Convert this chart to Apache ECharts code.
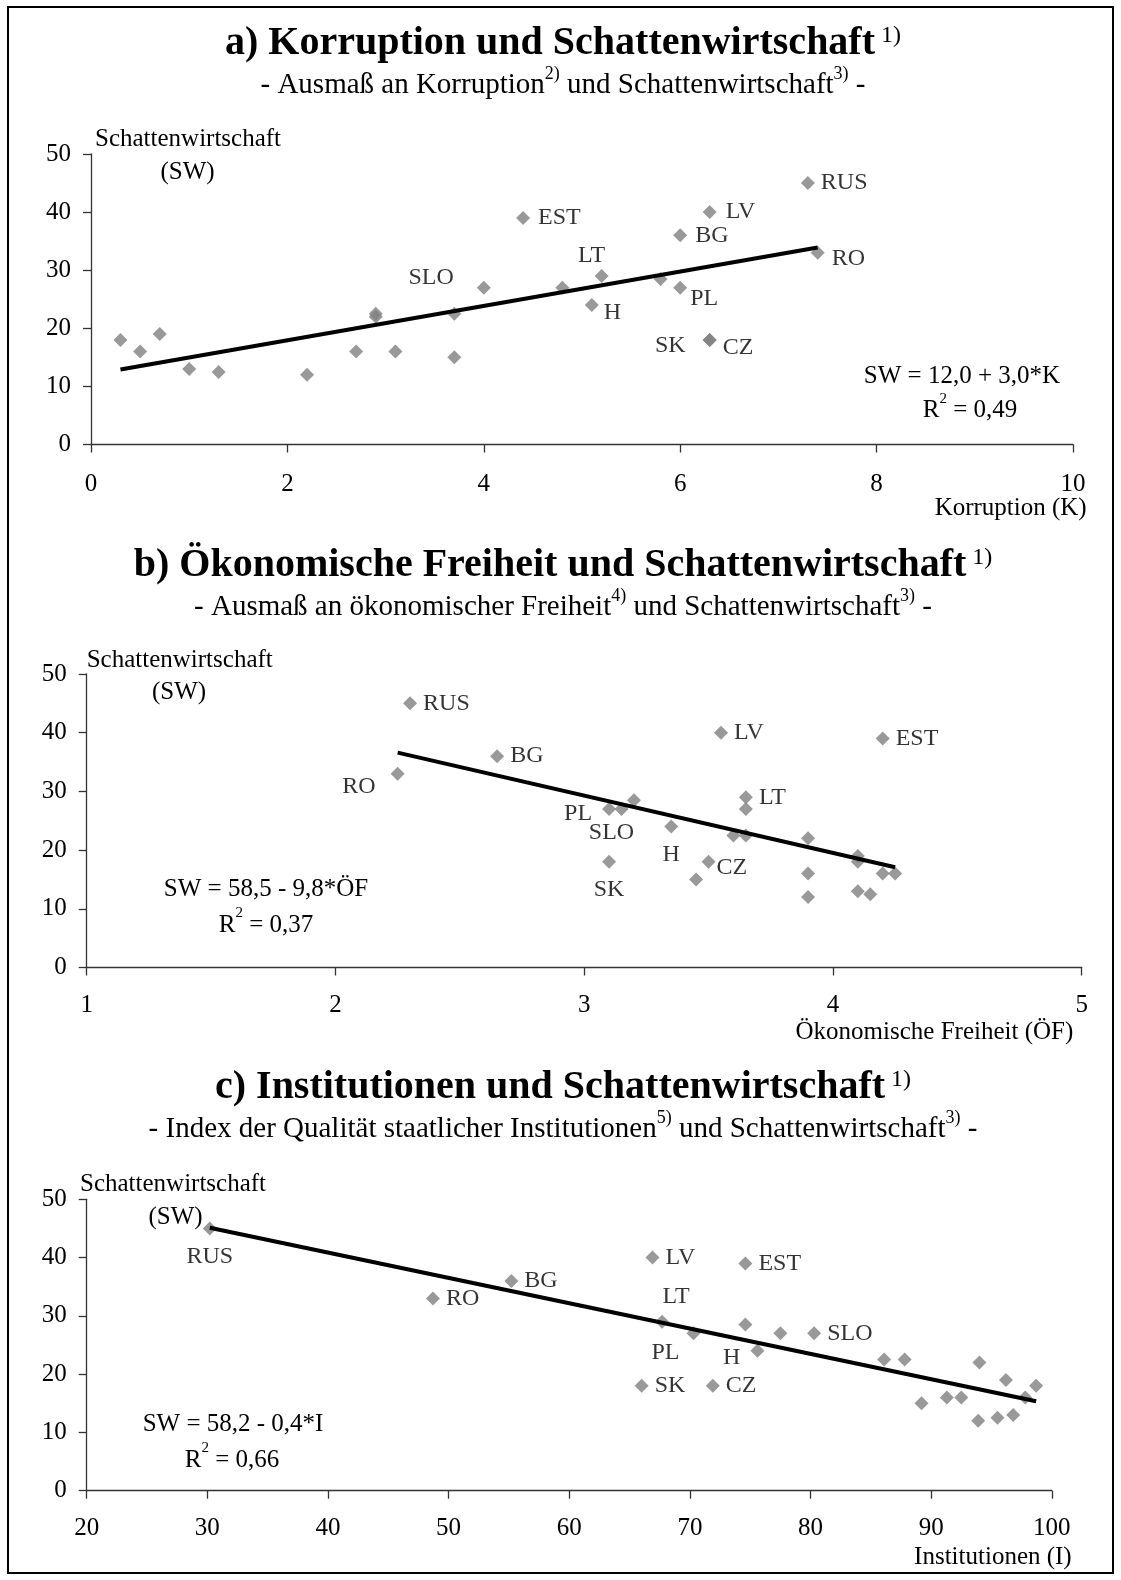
<!DOCTYPE html>
<html>
<head>
<meta charset="utf-8">
<script src="https://cdn.jsdelivr.net/npm/echarts@6/dist/echarts.min.js"></script>
<style>
html,body{margin:0;padding:0;background:#fff;}
#c{width:1121px;height:1580px;}
</style>
</head>
<body>
<div id="c"></div>
<script>
// ---------------- DATA ----------------
const countries = ['RUS','RO','BG','LV','EST','LT','PL','SLO','H','SK','CZ','','','','','','','','','','','','','',''];
const shadowEconomy = [45,33,36,40,39,29,27,27,24,18,18,28.5,27,18,16,16,16,19,13,12.5,12,22.5,22.5,22,15];
const corruption   = [7.3,7.4,6.0,6.3,4.4,5.2,6.0,4.0,5.1,6.3,6.3,5.8,4.8,0.3,0.5,2.7,3.1,0.7,1.0,1.3,2.2,2.9,3.7,2.9,3.7];
const econFreedom  = [2.30,2.25,2.65,3.55,4.20,3.65,3.10,3.15,3.35,3.10,3.50,3.20,3.65,4.10,3.90,4.20,4.25,4.10,4.10,4.15,3.90,3.60,3.65,3.90,3.45];
const institutions = [30.2,48.7,55.2,66.9,74.6,67.7,70.3,80.3,75.6,66.0,71.9,74.6,77.5,98.7,91.3,92.5,97.8,96.2,96.8,95.5,93.9,86.1,87.8,94.0,89.2];
const yTicks = [0,10,20,30,40,50];

// ---------------- LABEL LAYOUT (styles, not data) ----------------
const labelPosA = {RUS:['right',[0,0]], RO:['right',[1,6]], LV:['right',[3,0]], BG:['right',[2,0]], EST:['right',[2,0]],
  LT:['top',[-10,5]], PL:['right',[-3,11]], H:['right',[-1,8]], SK:['left',[-11,6]], CZ:['right',[0,8]], SLO:['left',[-17,-10]]};
const labelPosB = {RUS:['right',[0,0]], BG:['right',[0,0]], RO:['left',[-9,13]], LV:['right',[0,0]], EST:['right',[0,0]],
  LT:['right',[0,0]], PL:['left',[-4,5]], SLO:['bottom',[-10,-1]], H:['bottom',[0,3]], SK:['bottom',[0,3]], CZ:['right',[-5,6]]};
const labelPosC = {RUS:['bottom',[0,3]], RO:['right',[0,0]], BG:['right',[0,0]], LV:['right',[0,0]], EST:['right',[0,0]],
  LT:['top',[14,0]], PL:['bottom',[-28,-6]], H:['left',[-4,7]], SK:['right',[0,0]], CZ:['right',[0,0]], SLO:['right',[0,0]]};

const FONT = '"Liberation Serif", "Times New Roman", serif';
const mctx = document.createElement('canvas').getContext('2d');
function textW(t, size, bold){ mctx.font = (bold?'bold ':'') + size + 'px ' + FONT; return mctx.measureText(t).width; }
// parts: [text, size, bold, dy]
function textLine(parts, x, cy, align){
  const total = parts.reduce((s,p)=>s+textW(p[0],p[1],p[2]),0);
  let cx = align==='left' ? x : (align==='right' ? x-total : x-total/2);
  const els = [];
  parts.forEach(p=>{
    els.push({type:'text', x:cx, y:cy+(p[3]||0), silent:true,
      style:{text:p[0], fontSize:p[1], fontWeight:p[2]?'bold':'normal', fontFamily:FONT, fill:'#000',
        textAlign:'left', textVerticalAlign:'middle', align:'left', verticalAlign:'middle'}});
    cx += textW(p[0],p[1],p[2]);
  });
  return els;
}
function fit(xs, ys){
  const n = xs.length;
  const mx = xs.reduce((a,b)=>a+b,0)/n, my = ys.reduce((a,b)=>a+b,0)/n;
  let sxy=0, sxx=0;
  for(let i=0;i<n;i++){ sxy+=(xs[i]-mx)*(ys[i]-my); sxx+=(xs[i]-mx)*(xs[i]-mx); }
  const b = sxy/sxx; return {a: my-b*mx, b: b};
}

const panels = [
  {xs: corruption, grid:{left:91, top:154, width:982, height:290.5}, xmin:0, xmax:10, xint:2, lab: labelPosA, xMargin:27},
  {xs: econFreedom, grid:{left:86.7, top:674, width:995, height:293.5}, xmin:1, xmax:5, xint:1, lab: labelPosB, xMargin:25},
  {xs: institutions, grid:{left:86.7, top:1199.3, width:965.1, height:291.4}, xmin:20, xmax:100, xint:10, lab: labelPosC, xMargin:25}
];

const grids=[], xAxes=[], yAxes=[], series=[];
const axisCommon = {
  axisLine:{show:true, onZero:false, lineStyle:{color:'#333', width:1.3}},
  axisTick:{show:true, inside:false, length:8, lineStyle:{color:'#333', width:1.3}},
  splitLine:{show:false},
  axisLabel:{color:'#000', fontSize:25, fontFamily:FONT}
};
panels.forEach((p, i)=>{
  grids.push(Object.assign({containLabel:false}, p.grid));
  xAxes.push(Object.assign({}, axisCommon, {type:'value', gridIndex:i, min:p.xmin, max:p.xmax, interval:p.xint,
    axisLabel:Object.assign({}, axisCommon.axisLabel, {margin:p.xMargin})}));
  yAxes.push(Object.assign({}, axisCommon, {type:'value', gridIndex:i, min:yTicks[0], max:yTicks[yTicks.length-1], interval:yTicks[1]-yTicks[0],
    axisLabel:Object.assign({}, axisCommon.axisLabel, {margin:20})}));
  const data = p.xs.map((x, k)=>{
    const nm = countries[k];
    const item = {value:[x, shadowEconomy[k]], name:nm};
    if (nm && p.lab[nm]) item.label = {show:true, position:p.lab[nm][0], offset:p.lab[nm][1]};
    return item;
  });
  series.push({type:'scatter', xAxisIndex:i, yAxisIndex:i, symbol:'diamond', symbolSize:14,
    itemStyle:{color:'#7f7f7f'}, data:data, z:2, silent:true,
    label:{show:true, formatter:'{b}', fontSize:24, fontFamily:FONT, color:'#000', distance:6}});
  const f = fit(p.xs, shadowEconomy);
  const x0 = Math.min.apply(null, p.xs), x1 = Math.max.apply(null, p.xs);
  series.push({type:'line', xAxisIndex:i, yAxisIndex:i, symbol:'none', silent:true, z:3,
    lineStyle:{color:'#000', width:4}, data:[[x0, f.a+f.b*x0],[x1, f.a+f.b*x1]]});
});

let graphics = [];
graphics.push({type:'rect', shape:{x:8, y:7, width:1105, height:1566}, silent:true,
  style:{fill:'none', stroke:'#000', lineWidth:2}});
const CX = 563;
const TS = 40, TSUP = 24, SS = 29, SSUP = 18;
// Titles
graphics = graphics.concat(textLine([['a) Korruption und Schattenwirtschaft',TS,true],[' 1)',TSUP,false,-8]], CX, 44));
graphics = graphics.concat(textLine([['- Ausmaß an Korruption',SS],['2)',SSUP,false,-11],[' und Schattenwirtschaft',SS],['3)',SSUP,false,-11],[' -',SS]], CX, 85));
graphics = graphics.concat(textLine([['b) Ökonomische Freiheit und Schattenwirtschaft',TS,true],[' 1)',TSUP,false,-8]], CX, 566));
graphics = graphics.concat(textLine([['- Ausmaß an ökonomischer Freiheit',SS],['4)',SSUP,false,-11],[' und Schattenwirtschaft',SS],['3)',SSUP,false,-11],[' -',SS]], CX, 607));
graphics = graphics.concat(textLine([['c) Institutionen und Schattenwirtschaft',TS,true],[' 1)',TSUP,false,-8]], CX, 1088));
graphics = graphics.concat(textLine([['- Index der Qualität staatlicher Institutionen',SS],['5)',SSUP,false,-11],[' und Schattenwirtschaft',SS],['3)',SSUP,false,-11],[' -',SS]], CX, 1129));
// Axis names
graphics = graphics.concat(textLine([['Schattenwirtschaft',25]], 95, 139, 'left'));
graphics = graphics.concat(textLine([['(SW)',25]], 187.5, 172));
graphics = graphics.concat(textLine([['Korruption (K)',25]], 1086.7, 508, 'right'));
graphics = graphics.concat(textLine([['Schattenwirtschaft',25]], 86.7, 660, 'left'));
graphics = graphics.concat(textLine([['(SW)',25]], 179, 692));
graphics = graphics.concat(textLine([['Ökonomische Freiheit (ÖF)',25]], 1073.3, 1032, 'right'));
graphics = graphics.concat(textLine([['Schattenwirtschaft',25]], 80, 1184, 'left'));
graphics = graphics.concat(textLine([['(SW)',25]], 175.5, 1217));
graphics = graphics.concat(textLine([['Institutionen (I)',25]], 1071.7, 1557, 'right'));
// Equations
graphics = graphics.concat(textLine([['SW = 12,0 + 3,0*K',25]], 962, 376));
graphics = graphics.concat(textLine([['R',25],['2',15,false,-11.5],[' = 0,49',25]], 970, 410.5));
graphics = graphics.concat(textLine([['SW = 58,5 - 9,8*ÖF',25]], 266, 889));
graphics = graphics.concat(textLine([['R',25],['2',15,false,-11.5],[' = 0,37',25]], 266, 925));
graphics = graphics.concat(textLine([['SW = 58,2 - 0,4*I',25]], 233, 1424));
graphics = graphics.concat(textLine([['R',25],['2',15,false,-11.5],[' = 0,66',25]], 232, 1460));

const chart = echarts.init(document.getElementById('c'), null, {renderer:'canvas'});
chart.setOption({
  backgroundColor:'#fff',
  animation:false,
  grid:grids, xAxis:xAxes, yAxis:yAxes, series:series,
  graphic:{elements:graphics}
});
</script>
</body>
</html>
